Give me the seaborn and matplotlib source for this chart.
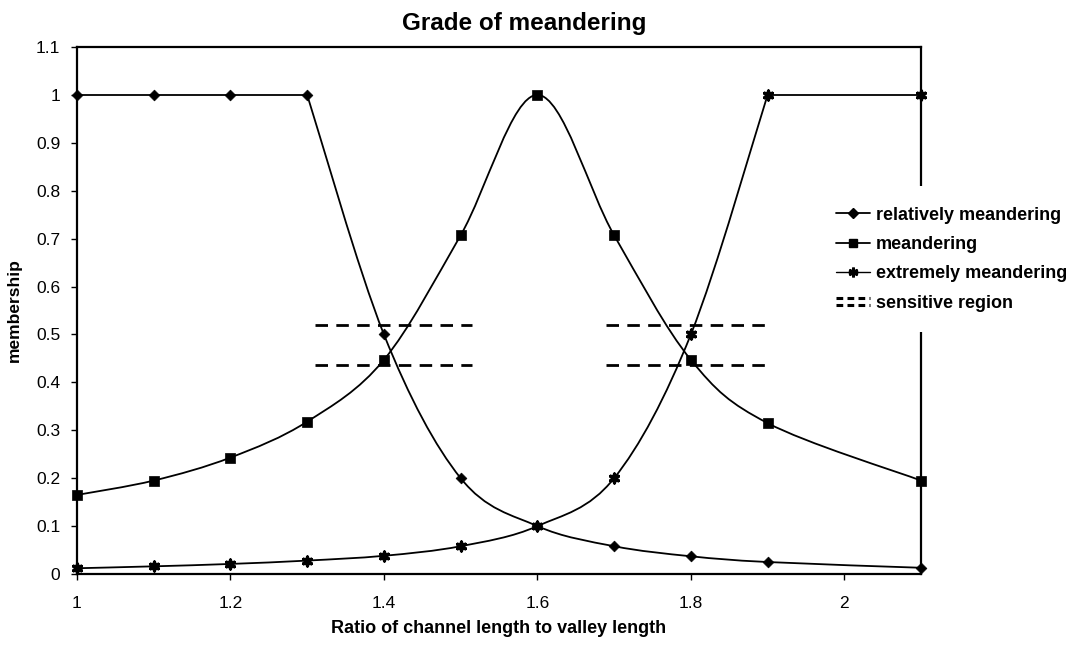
import numpy as np
import pandas as pd
import matplotlib
matplotlib.use("Agg")
import matplotlib.pyplot as plt
import seaborn as sns
from matplotlib.path import Path
from matplotlib.patches import PathPatch
from matplotlib.lines import Line2D
from matplotlib.legend_handler import HandlerBase
from matplotlib.ticker import FormatStrFormatter, MultipleLocator

# values
ratio = [1.0, 1.1, 1.2, 1.3, 1.4, 1.5, 1.6, 1.7, 1.8, 1.9, 2.1]
relatively = [1.0, 1.0, 1.0, 1.0, 0.5, 0.2, 0.1, 0.058, 0.037, 0.025, 0.013]
meandering = [0.165, 0.195, 0.243, 0.318, 0.447, 0.707, 1.0, 0.707, 0.447, 0.315, 0.195]
extremely = [0.012, 0.016, 0.021, 0.028, 0.038, 0.058, 0.1, 0.2, 0.5, 1.0, 1.0]

# sensitive region (two dashed bands)
sens_left = [1.31, 1.515]
sens_right = [1.69, 1.898]
sens_levels = [0.52, 0.436]

sns.set_style("ticks")
plt.rcParams['font.family'] = ['Liberation Sans', 'DejaVu Sans']
plt.rcParams['text.color'] = 'black'
plt.rcParams['axes.labelcolor'] = 'black'


def smooth_path(xs, ys):
    # Excel-like smoothed line: cubic bezier through the points
    pts = np.column_stack([xs, ys])
    n = len(pts)
    verts = [pts[0]]
    codes = [Path.MOVETO]
    for i in range(n - 1):
        p0 = pts[max(i - 1, 0)]
        p1 = pts[i]
        p2 = pts[i + 1]
        p3 = pts[min(i + 2, n - 1)]
        verts += [p1 + (p2 - p0) / 6, p2 - (p3 - p1) / 6, p2]
        codes += [Path.CURVE4] * 3
    return Path(verts, codes)


class HandlerDoubleDash(HandlerBase):
    def create_artists(self, legend, orig_handle, xdescent, ydescent,
                       width, height, fontsize, trans):
        arts = []
        for f in (0.8, 0.2):
            ln = Line2D([-xdescent, width - xdescent], [height * f - ydescent] * 2,
                        color='black', lw=2.2, linestyle=(0, (2.2, 1.4)))
            ln.set_transform(trans)
            arts.append(ln)
        return arts


fig = plt.figure(figsize=(10.84, 6.48), dpi=100)
ax = fig.add_axes([0.071, 0.1142, 0.7787, 0.8133])

# series: values, marker, size, (straight part, smooth part)
series = [
    ('relatively meandering', relatively, 'D', 30, [(0, 4, False), (3, 11, True)]),
    ('meandering', meandering, 's', 42, [(0, 11, True)]),
    ('extremely meandering', extremely, (6, 2, 0), 40, [(0, 10, True), (9, 11, False)]),
]

x = np.array(ratio)
for name, vals, mk, size, parts in series:
    y = np.array(vals)
    for a, b, smooth in parts:
        if smooth:
            ax.add_patch(PathPatch(smooth_path(x[a:b], y[a:b]), fill=False,
                                   edgecolor='black', lw=1.3, zorder=3))
        else:
            ax.plot(x[a:b], y[a:b], color='black', lw=1.3, zorder=3)
    df = pd.DataFrame({'ratio': x, 'membership': y})
    if isinstance(mk, tuple):
        sns.scatterplot(data=df, x='ratio', y='membership', marker=mk, s=size,
                        color='black', linewidth=2.4, ax=ax, zorder=4, clip_on=False)
    else:
        sns.scatterplot(data=df, x='ratio', y='membership', marker=mk, s=size,
                        color='black', edgecolor='black', linewidth=0.5, ax=ax,
                        zorder=4, clip_on=False)

for xr in (sens_left, sens_right):
    ax.hlines(sens_levels, xr[0], xr[1], colors='black', lw=2.0,
              linestyles=[(0, (4.5, 3))], zorder=2)

ax.set_xlim(1, 2.1)
ax.set_ylim(0, 1.1)
ax.xaxis.set_major_locator(MultipleLocator(0.2))
ax.yaxis.set_major_locator(MultipleLocator(0.1))
ax.xaxis.set_major_formatter(FormatStrFormatter('%g'))
ax.yaxis.set_major_formatter(FormatStrFormatter('%g'))
ax.tick_params(direction='out', length=4, width=1, labelsize=12.5, colors='black')
ax.tick_params(axis='x', pad=12)
ax.tick_params(axis='y', pad=8)
for sp in ax.spines.values():
    sp.set_visible(True)
    sp.set_linewidth(1.6)
    sp.set_color('black')

ax.set_title('Grade of meandering', fontsize=17.5, fontweight='bold', pad=12, x=0.53)
ax.set_xlabel('Ratio of channel length to valley length', fontsize=13,
              fontweight='bold', labelpad=6)
ax.set_ylabel('membership', fontsize=12.5, fontweight='bold', labelpad=10)

handles = [
    Line2D([], [], color='black', lw=1.3, marker='D', markersize=5),
    Line2D([], [], color='black', lw=1.3, marker='s', markersize=6),
    Line2D([], [], color='black', lw=1.0, marker=(6, 2, 0), markersize=7, markeredgewidth=2),
    'sensitive',
]
labels = ['relatively meandering', 'meandering', 'extremely meandering', 'sensitive region']
leg = fig.legend(handles, labels, loc='center left', bbox_to_anchor=(0.752, 0.6),
                 bbox_transform=fig.transFigure, frameon=True, fancybox=False,
                 facecolor='white', edgecolor='none', framealpha=1,
                 borderpad=1.15, borderaxespad=0, handlelength=1.9,
                 handletextpad=0.3, labelspacing=0.68,
                 prop={'weight': 'bold', 'size': 13},
                 handler_map={str: HandlerDoubleDash()})
leg.set_zorder(10)

fig.savefig('out.png', dpi=100)
